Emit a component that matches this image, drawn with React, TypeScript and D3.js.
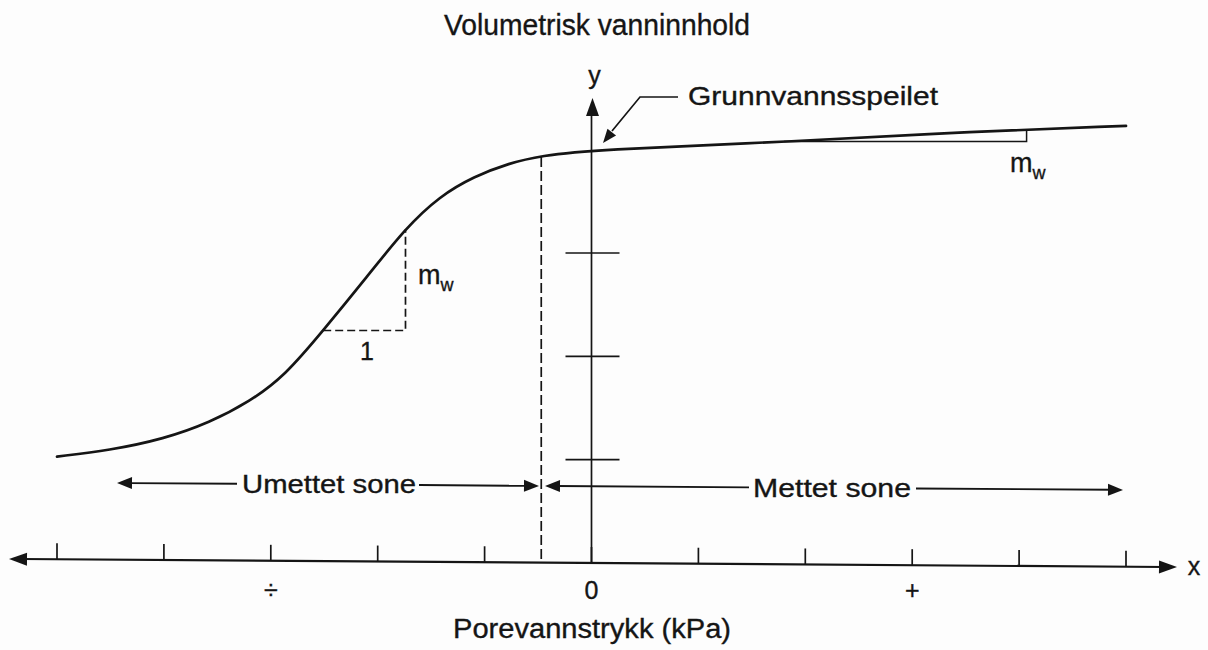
import React from "react";
import * as d3 from "d3";

// ---- data ----
// x in "tick units" (0 at the y-axis), y in "y-tick units" (0 at the x-axis)
const xTickValues = [-5, -4, -3, -2, -1, 0, 1, 2, 3, 4, 5];
const yTickValues = [1, 2, 3];
const signLabelPos = [-3, 0, 3];
const signLabelText = ["÷", "0", "+"];

const curveX = [-5.0, -4.51, -4.0, -3.57, -3.2, -2.87, -2.51, -2.1, -1.74, -1.42, -1.1, -0.77, -0.47, 0, 1.95, 3.42, 5.0];
const curveY = [1.03, 1.09, 1.2, 1.36, 1.56, 1.81, 2.25, 2.77, 3.24, 3.55, 3.74, 3.87, 3.94, 4.0, 4.08, 4.17, 4.23];

// slope triangle (unsaturated part)
const slopeX = [-2.51, -1.74];
const slopeY = [2.25, 3.23];
// slope triangle (saturated part)
const satSlopeX = [1.8, 4.07];
const satSlopeY = [4.08, 4.195];

// boundary between unsaturated / saturated zone
const boundaryX = -0.47;
const boundaryTop = 3.93;

const INK = "#151515";
const FONT = "'Liberation Sans', Arial, Helvetica, sans-serif";

function arrowHead(tx: number, ty: number, dx: number, dy: number, len = 15, half = 6) {
  const n = Math.hypot(dx, dy);
  const ux = dx / n, uy = dy / n;
  const bx = tx - ux * len, by = ty - uy * len;
  const px = -uy, py = ux;
  return `${tx},${ty} ${bx + px * half},${by + py * half} ${bx - px * half},${by - py * half}`;
}

export default function App() {
  const W = 1208, H = 650;
  const x = d3.scaleLinear().domain([-5, 5]).range([57, 1126]);
  const y = d3.scaleLinear().domain([0, 4.5]).range([563, 98]);

  // the scan is slightly tilted: x-axis drops ~8px from left to right
  const tilt = 8 / 1168;
  const axisY = (px: number) => y(0) + (px - x(0)) * tilt;
  const axisLeft = 9, axisRight = 1177;

  const line = d3
    .line<number>()
    .x((_, i) => x(curveX[i]))
    .y((d) => y(d))
    .curve(d3.curveBasis);
  const curvePath = line(curveY) || "";

  const zoneY = (px: number) => 483 + (px - 117) * tilt;

  const yTop = y(4.5);
  const txt = { fill: INK, stroke: INK, strokeWidth: 0.35 } as const;

  return (
    <svg
      width={W}
      height={H}
      viewBox={`0 0 ${W} ${H}`}
      style={{ position: "absolute", left: 0, top: 0, background: "#fdfdfd" }}
      fontFamily={FONT}
    >
      <rect x={0} y={0} width={W} height={H} fill="#fdfdfd" />

      {/* Title */}
      <text x={597} y={35} fontSize={29} textAnchor="middle" {...txt} textLength={306} lengthAdjust="spacingAndGlyphs">
        Volumetrisk vanninnhold
      </text>

      {/* y axis */}
      <line x1={x(0)} y1={axisY(x(0))} x2={x(0)} y2={yTop + 14} stroke={INK} strokeWidth={1.7} />
      <polygon points={arrowHead(x(0) + 1, yTop, 0, -1, 18, 6.5)} fill={INK} />
      <text x={x(0) + 3} y={84} fontSize={25} textAnchor="middle" {...txt}>y</text>
      {yTickValues.map((v) => (
        <line key={"yt" + v} x1={x(0) - 26} x2={x(0) + 28} y1={y(v)} y2={y(v)} stroke={INK} strokeWidth={1.7} />
      ))}

      {/* x axis */}
      <line x1={axisLeft + 12} y1={axisY(axisLeft)} x2={axisRight - 12} y2={axisY(axisRight)} stroke={INK} strokeWidth={2.2} />
      <polygon points={arrowHead(axisLeft, axisY(axisLeft), -1, -tilt, 18, 6.5)} fill={INK} />
      <polygon points={arrowHead(axisRight, axisY(axisRight), 1, tilt, 18, 6.5)} fill={INK} />
      {xTickValues.map((v) => (
        <line key={"xt" + v} x1={x(v)} x2={x(v)} y1={axisY(x(v))} y2={axisY(x(v)) - 16} stroke={INK} strokeWidth={1.7} />
      ))}
      <text x={1194} y={575} fontSize={25} textAnchor="middle" {...txt}>x</text>
      {signLabelPos.map((v, i) => (
        <text key={"sl" + i} x={x(v)} y={599} fontSize={25} textAnchor="middle" {...txt}>
          {signLabelText[i]}
        </text>
      ))}
      <text x={592} y={638} fontSize={27} textAnchor="middle" {...txt} textLength={278} lengthAdjust="spacingAndGlyphs">
        Porevannstrykk (kPa)
      </text>

      {/* boundary dashed line */}
      <line
        x1={x(boundaryX)}
        x2={x(boundaryX)}
        y1={y(boundaryTop)}
        y2={axisY(x(boundaryX))}
        stroke={INK}
        strokeWidth={1.7}
        strokeDasharray="10,4"
      />

      {/* slope triangle, unsaturated */}
      <path
        d={`M${x(slopeX[0])},${y(slopeY[0])} H${x(slopeX[1])} V${y(slopeY[1])}`}
        fill="none"
        stroke={INK}
        strokeWidth={1.7}
        strokeDasharray="8,4"
      />
      <text x={418} y={284} fontSize={27} {...txt}>
        m<tspan fontSize={18} dy={7}>w</tspan>
      </text>
      <text x={367} y={360} fontSize={25} textAnchor="middle" {...txt}>1</text>

      {/* slope triangle, saturated */}
      <path
        d={`M${x(satSlopeX[0])},${y(satSlopeY[0])} H${x(satSlopeX[1])} V${y(satSlopeY[1])}`}
        fill="none"
        stroke={INK}
        strokeWidth={1.5}
      />
      <text x={1010} y={172} fontSize={27} {...txt}>
        m<tspan fontSize={18} dy={7}>w</tspan>
      </text>

      {/* the curve */}
      <path d={curvePath} fill="none" stroke={INK} strokeWidth={2.7} strokeLinecap="round" />

      {/* groundwater table leader */}
      <path d="M612,131 L640,97 H678" fill="none" stroke={INK} strokeWidth={1.7} />
      <polygon points={arrowHead(603, 143, -37, 46, 14, 5.5)} fill={INK} />
      <text x={688} y={105} fontSize={25} {...txt} textLength={250} lengthAdjust="spacingAndGlyphs">
        Grunnvannsspeilet
      </text>

      {/* zone arrows */}
      <line x1={129} y1={zoneY(129)} x2={237} y2={zoneY(237)} stroke={INK} strokeWidth={1.9} />
      <line x1={419} y1={zoneY(419)} x2={527} y2={zoneY(527)} stroke={INK} strokeWidth={1.9} />
      <polygon points={arrowHead(117, zoneY(117), -1, -tilt, 15, 6)} fill={INK} />
      <polygon points={arrowHead(539, zoneY(539), 1, tilt, 15, 6)} fill={INK} />
      <text x={242} y={493} fontSize={25} {...txt} textLength={174} lengthAdjust="spacingAndGlyphs">
        Umettet sone
      </text>

      <line x1={557} y1={zoneY(557)} x2={749} y2={zoneY(749)} stroke={INK} strokeWidth={1.9} />
      <line x1={916} y1={zoneY(916)} x2={1111} y2={zoneY(1111)} stroke={INK} strokeWidth={1.9} />
      <polygon points={arrowHead(545, zoneY(545), -1, -tilt, 15, 6)} fill={INK} />
      <polygon points={arrowHead(1123, zoneY(1123), 1, tilt, 15, 6)} fill={INK} />
      <text x={753} y={497} fontSize={25} {...txt} textLength={158} lengthAdjust="spacingAndGlyphs">
        Mettet sone
      </text>
    </svg>
  );
}
